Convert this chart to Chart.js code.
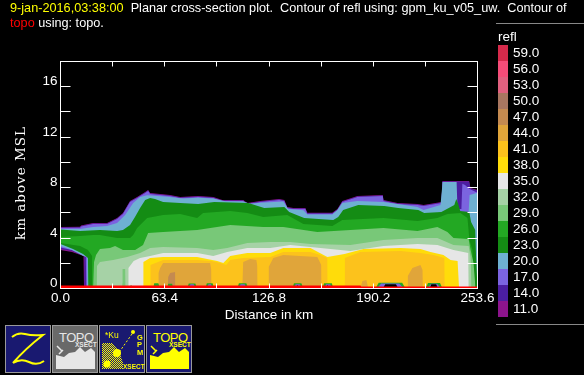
<!DOCTYPE html>
<html lang="en">
<head>
<meta charset="UTF-8">
<title>Planar cross-section plot</title>
<script src="https://cdn.jsdelivr.net/npm/chart.js"></script>
<style>
  html, body { margin: 0; padding: 0; background: #000; width: 584px; height: 375px; overflow: hidden; }
  body { position: relative; font-family: "Liberation Sans", sans-serif; font-size: 13.5px; color: #fff; }
  canvas { position: absolute; left: 0; top: 0; }
  .plot-title { position: absolute; left: 10px; white-space: pre; line-height: 15px; font-size: 12.7px; }
  .rule { position: absolute; left: 496px; width: 88px; height: 1px; background: #888; }
  #legend { position: absolute; left: 498px; top: 29px; }
  #legend .name { height: 16px; line-height: 15px; }
  #legend .row { height: 16px; line-height: 16px; display: flex; }
  #legend .box { width: 10px; height: 16px; margin-right: 5px; }
  svg.btn { position: absolute; top: 325px; width: 46px; height: 48px; }
</style>
</head>
<body>
<canvas id="xsect" width="584" height="375"></canvas>

<div class="plot-title" style="top:1px"><span style="color:#ffff00">9-jan-2016,03:38:00</span>  Planar cross-section plot.  Contour of refl using: gpm_ku_v05_uw.  Contour of</div>
<div class="plot-title" style="top:16px"><span style="color:#ff0000">topo</span> using: topo.</div>

<div class="rule" style="top:23px"></div>
<div class="rule" style="top:324px"></div>
<div id="legend"></div>

<svg class="btn" style="left:5px" viewBox="0 0 46 48">
  <rect x="0.5" y="0.5" width="45" height="47" fill="#191970" stroke="#999"/>
  <path d="M7 12 Q13 7 20 9 T38 10 Q20 24 8 38 Q16 33 24 37 T39 36" fill="none" stroke="#ffff00" stroke-width="2"/>
</svg>
<svg class="btn" style="left:52px" viewBox="0 0 46 48">
  <rect x="0.5" y="0.5" width="45" height="47" fill="#696969" stroke="#999"/>
  <text x="7" y="17" font-size="13" fill="#e6e6e6" textLength="35">TOPO</text>
  <text x="23" y="22" font-size="6.5" font-weight="bold" fill="#e6e6e6">XSECT</text>
  <path d="M4 30 L12 32 L17 28 L23 27 L28 22 L33 27 L39 23 L43 27 L43 44 L4 44 Z" fill="#e6e6e6"/>
  <path d="M5 21 L10 26 M7 29 L11 25" stroke="#e6e6e6" stroke-width="1.5"/>
</svg>
<svg class="btn" style="left:99px" viewBox="0 0 46 48">
  <defs>
    <pattern id="dither" width="2" height="2" patternUnits="userSpaceOnUse">
      <rect width="1" height="1" fill="#ffff00"/><rect x="1" y="1" width="1" height="1" fill="#ffff00"/>
    </pattern>
  </defs>
  <rect x="0.5" y="0.5" width="45" height="47" fill="#191970" stroke="#999"/>
  <text x="6" y="13" font-size="8.5" fill="#ffff00">*Ku</text>
  <circle cx="34" cy="7" r="2" fill="#ffff00"/>
  <text x="38" y="14.5" font-size="7.5" font-weight="bold" fill="#ffff00">G</text>
  <text x="38" y="22" font-size="7.5" font-weight="bold" fill="#ffff00">P</text>
  <text x="38" y="29.5" font-size="7.5" font-weight="bold" fill="#ffff00">M</text>
  <path d="M3 18 L13 18 L20 26 L24 38 L24 44 L3 44 Z" fill="url(#dither)"/>
  <circle cx="18" cy="28" r="4" fill="#ffff00"/>
  <circle cx="8" cy="39" r="3.5" fill="#ffff00"/>
  <path d="M33 9 L21 26" stroke="#ffff00" stroke-width="1" stroke-dasharray="2 2"/>
  <text x="24" y="44" font-size="6.5" font-weight="bold" fill="#ffff00">XSECT</text>
</svg>
<svg class="btn" style="left:146px" viewBox="0 0 46 48">
  <rect x="0.5" y="0.5" width="45" height="47" fill="#191970" stroke="#999"/>
  <text x="7" y="17" font-size="13" fill="#ffff00" textLength="35">TOPO</text>
  <text x="23" y="22" font-size="6.5" font-weight="bold" fill="#ffff00">XSECT</text>
  <path d="M4 30 L12 32 L17 28 L23 27 L28 22 L33 27 L39 23 L43 27 L43 44 L4 44 Z" fill="#ffff00"/>
  <path d="M5 21 L10 26 M7 29 L11 25" stroke="#ffff00" stroke-width="1.5"/>
</svg>

<script>
// axis ticks
const xTicks = [0, 31.7, 63.4, 95.1, 126.8, 158.5, 190.2, 221.9, 253.6];
const xTickLabels = ["0.0", "", "63.4", "", "126.8", "", "190.2", "", "253.6"];
const yTicks = [0, 2, 4, 6, 8, 10, 12, 14, 16, 18];
const yTickLabels = ["0", "", "4", "", "8", "", "12", "", "16", ""];

// colour key, top to bottom
const levels = ["59.0", "56.0", "53.0", "50.0", "47.0", "44.0", "41.0", "38.0", "35.0", "32.0", "29.0", "26.0", "23.0", "20.0", "17.0", "14.0", "11.0"];
const levelColors = ["#d62a4b", "#f54c78", "#e0607f", "#a87660", "#c48a50", "#e0a53a", "#fcc21c", "#ffdc0a", "#e6e6e6", "#a6d2a6", "#78c878", "#23a823", "#148c14", "#6eb0d2", "#7b64e0", "#4b1ea0", "#8c148c"];

// contour outlines: distance (km), height (km)
const floorX = [0, 253.6];
const floorY = [0, 0];

const x11 = [0, 11.9, 12.5, 19.8, 28.3, 34.4, 38, 42.3, 46.6, 51.5, 53.3, 54.5, 66.6, 72.8, 83.7, 92.9, 98.4, 111.1, 113.6, 121.5, 133, 136.1, 137.9, 141.6, 148.9, 150.1, 165.3, 168.4, 171.4, 180.6, 196, 196.4, 204.9, 217.1, 220.8, 231.7, 232.3, 248.5, 249.3, 253.6];
const top11 = [4.88, 4.9, 5.0, 5.19, 5.19, 5.59, 5.99, 6.94, 7.26, 7.65, 7.81, 7.57, 7.41, 7.26, 7.34, 7.26, 7.02, 7.02, 6.78, 6.94, 7.1, 7.02, 6.46, 6.38, 6.38, 6, 6, 6.3, 6.94, 7.34, 7.41, 7.02, 6.78, 6.7, 6.62, 6.86, 8.52, 8.52, 7.97, 7.81];
const botX11 = [0, 7, 14, 14.3, 253.6];
const bot11 = [3.05, 2.89, 2.58, 0, 0];

const top14 = [4.84, 4.86, 4.96, 5.15, 5.15, 5.55, 5.95, 6.9, 7.22, 7.61, 7.77, 7.53, 7.37, 7.22, 7.3, 7.22, 6.98, 6.98, 6.74, 6.9, 7.06, 6.98, 6.42, 6.34, 6.34, 5.96, 5.96, 6.26, 6.9, 7.3, 7.37, 6.98, 6.74, 6.66, 6.58, 6.82, 8.48, 8.48, 7.93, 7.77];
const botX14 = [0, 7, 14.5, 14.8, 253.6];
const bot14 = [3.13, 2.97, 2.58, 0, 0];

const x17 = [0, 11.9, 12.5, 19.8, 28.3, 34.4, 38, 42.3, 46.6, 51.5, 53.3, 54.5, 66.6, 72.8, 83.7, 92.9, 98.4, 111.1, 113.6, 121.5, 133, 136.1, 137.9, 141.6, 148.9, 150.1, 165.3, 168.4, 171.4, 180.6, 196, 196.4, 204.9, 217.1, 220.8, 231.7, 232.3, 240, 240.6, 243.8, 244.4, 246, 248.5, 253.6];
const top17 = [4.8, 4.82, 4.92, 5.11, 5.11, 5.51, 5.91, 6.86, 7.18, 7.57, 7.73, 7.49, 7.33, 7.18, 7.26, 7.18, 6.94, 6.94, 6.7, 6.86, 7.02, 6.94, 6.38, 6.3, 6.3, 5.93, 5.93, 6.22, 6.86, 7.26, 7.33, 6.94, 6.7, 6.62, 6.54, 6.78, 8.44, 8.44, 6.3, 6.3, 8.3, 8.2, 7.9, 7.6];
const botX17 = [0, 7, 15.4, 15.7, 253.6];
const bot17 = [3.25, 3.05, 2.5, 0, 0];

const x20 = [0, 11.9, 19.8, 28.3, 34.4, 39.3, 44.2, 48.4, 52.7, 64.9, 74.6, 83.7, 92.9, 100.2, 111.1, 115.4, 121.5, 135.5, 138.5, 147.7, 150.1, 165.3, 168.4, 171.4, 180.6, 196.4, 204.9, 217.1, 220.8, 231.1, 232.4, 240.9, 241.5, 248.2, 248.8, 253.6];
const top20 = [4.72, 4.72, 4.88, 4.96, 5.19, 5.83, 6.78, 7.25, 7.4, 7.28, 7.14, 7.2, 7.14, 6.92, 6.9, 6.72, 6.8, 6.9, 6.3, 6.2, 5.87, 5.87, 6.22, 6.78, 6.94, 6.86, 6.7, 6.46, 6.22, 6.62, 8.44, 8.44, 6.07, 6.07, 7.41, 7.6];
const botX20 = [0, 7, 14, 16.2, 16.5, 253.6];
const bot20 = [3.37, 3.05, 2.58, 2.5, 0, 0];

const x23 = [0, 11.9, 24, 34.4, 38, 42.3, 45.3, 48.4, 51.5, 54.5, 57.5, 62.4, 72.8, 83.7, 93.5, 114.2, 123.9, 136.1, 139.1, 148.2, 165.9, 168.9, 171.9, 181.1, 196.9, 205.4, 217.6, 221.2, 231.6, 239.5, 240.7, 241.9, 243.1, 248.6, 249.7, 252.2, 252.8, 253.6];
const top23 = [4.68, 4.56, 4.64, 4.56, 4.64, 5.04, 5.67, 6.38, 7.02, 7.18, 7.1, 6.86, 6.78, 6.7, 6.86, 6.78, 6.38, 6.46, 6.07, 5.59, 5.43, 5.67, 6.22, 6.62, 6.54, 6.38, 6.22, 5.99, 6.07, 6.62, 7.1, 6.7, 6.15, 6.07, 5.27, 4.64, 2.26, 0];
const botX23 = [0, 7.6, 13.7, 16.7, 16.9, 253.6];
const bot23 = [3.53, 3.13, 2.74, 2.42, 0, 0];

const x26 = [0, 11.9, 19.8, 24, 34.4, 42.3, 44.2, 46.6, 52.7, 62.4, 72.8, 83.1, 86.7, 103.2, 113.6, 123.3, 137.9, 147.7, 165.3, 171.4, 196.4, 217.1, 229.2, 235.3, 243.2, 247.5, 248.7, 250.5, 251.1];
const top26 = [4.08, 4.16, 4.24, 4.24, 4, 4, 4.24, 4.8, 5.59, 5.83, 5.91, 5.59, 5.99, 6.15, 5.99, 5.67, 5.83, 5.11, 4.96, 5.43, 5.59, 5.35, 5.59, 5.91, 5.99, 5.59, 3.85, 3.05, 0];
const botX26 = [0, 11.9, 16.7, 19.2, 19.4, 253.6];
const bot26 = [3.61, 3.37, 3.05, 2.58, 0, 0];

const x29 = [19.8, 20.4, 21.6, 24, 30.1, 33.2, 38, 45.4, 50.2, 53.3, 62.4, 83.1, 103.2, 123.3, 135.5, 156.2, 176.3, 196.4, 217.1, 229.2, 235.3, 239, 248.2, 249.4, 251.2, 252.4];
const top29 = [0, 2.1, 2.66, 3.13, 3.21, 3.37, 3.05, 3.05, 3.45, 4.4, 4.48, 4.64, 5.04, 4.88, 4.88, 4.48, 4.64, 4.8, 4.56, 4.88, 4.48, 4, 3.93, 3.05, 2.02, 0];

const x32 = [21.9, 22.2, 24, 32, 40.5, 48.4, 54.5, 62.4, 83.1, 92.9, 101.4, 113.6, 127.6, 139.8, 152, 176.3, 196.4, 217.1, 229.2, 239, 248.2, 249.4, 250];
const top32 = [0, 1.78, 2.1, 2.26, 2.5, 2.82, 3.21, 3.29, 3.21, 3.05, 3.21, 3.61, 3.69, 3.69, 3.53, 3.45, 3.85, 4, 4, 3.45, 3.37, 2.5, 0];

// small 29 dBZ sliver inside the 32 dBZ area
const x29b = [37.5, 37.7, 39.4, 39.6];
const top29b = [0.4, 1.55, 1.55, 0.4];

const x35 = [41.1, 41.3, 44.5, 48.4, 54.5, 62.4, 83.1, 92.9, 101.4, 113.6, 127.6, 139.8, 152, 176.3, 196.4, 217.1, 229.2, 239, 248, 248.3];
const top35 = [0, 1.63, 2.18, 2.42, 2.58, 2.82, 2.82, 2.58, 2.89, 3.21, 3.21, 3.45, 3.29, 2.97, 3.37, 3.53, 3.45, 3.05, 2.82, 0];

const x38 = [50.2, 50.4, 54.5, 62.4, 83.1, 95.3, 99, 103.2, 113.6, 127.6, 135.5, 152, 162.3, 172.7, 184.2, 206.8, 218.9, 225, 232.9, 237.2, 241.5, 242.4];
const top38 = [0, 2.1, 2.42, 2.5, 2.5, 2.18, 2.02, 2.58, 2.82, 2.82, 3.21, 3.21, 2.5, 2.74, 3.13, 3.21, 3.13, 2.89, 2.66, 2.26, 2.18, 0];

const x41a = [54.5, 54.7, 62.4, 83.1, 91.7, 97.1, 100.8, 103.2, 111.1, 127.6, 135.5, 152, 158, 162.3, 162.5];
const top41a = [0, 1.86, 2.26, 2.26, 2.18, 2.02, 1.86, 2.26, 2.42, 2.5, 2.89, 2.89, 2.66, 2.42, 0];
const x41b = [172.7, 172.9, 182.4, 206.8, 218.9, 226.9, 233.5, 233.7];
const top41b = [0, 2.42, 2.89, 2.97, 2.82, 2.66, 2.42, 0];

const x44a = [59.4, 59.6, 60.6, 62.4, 91, 91.7, 91.9];
const top44a = [0, 1.23, 1.63, 2.02, 2.02, 1.5, 0];
const x44b = [110.5, 111.1, 115.4, 119.1, 119.7, 119.9];
const top44b = [0, 2.1, 2.34, 2.26, 1.8, 0];
const x44c = [126.4, 126.6, 129.4, 135.5, 156.2, 158.6, 158.8];
const top44c = [0, 1.71, 2.42, 2.66, 2.5, 1.86, 0];
const x44d = [211, 211.2, 214, 218.9, 220.2, 220.4];
const top44d = [0, 1, 1.63, 1.86, 1.47, 0];
const x44e = [182.4, 183.6, 186, 187.2];
const top44e = [0, 0.6, 0.67, 0];

const x47 = [65.2, 65.5, 66.7, 69.7, 69.9];
const top47 = [0, 0.91, 1.23, 1.31, 0];

// echo gaps right above the surface
const gapX = [40.5, 42.9, 45.4, 56.3, 57, 59.5, 60.6, 64.9, 65.5, 67.9, 68.5, 77, 78, 82, 83.1, 88, 89, 92.5, 93.5, 107.5, 108.5, 113, 114.2, 141, 142, 146.5, 147.7, 159.3, 160.3, 165, 166, 191.5, 193.5, 207.8, 209.8, 222, 223.5, 230.8, 232.3];
const gapGreen = [0, 0.26, 0, 0, 0.42, 0.42, 0, 0, 0.38, 0.38, 0, 0, 0.4, 0.4, 0, 0, 0.42, 0.42, 0, 0, 0.42, 0.42, 0, 0, 0.42, 0.42, 0, 0, 0.42, 0.42, 0, 0, 0.46, 0.46, 0, 0, 0.44, 0.44, 0];
const gapVioletX = [78, 79, 81, 82, 89, 90, 91.5, 92.5, 108.5, 109.5, 112, 113, 142, 143, 145.5, 146.5, 160.5, 161.5, 164, 165, 192.5, 195, 206, 208.8, 223, 225.5, 229, 231.3];
const gapViolet = [0, 0.34, 0.34, 0, 0, 0.34, 0.34, 0, 0, 0.34, 0.34, 0, 0, 0.34, 0.34, 0, 0, 0.34, 0.34, 0, 0, 0.4, 0.4, 0, 0, 0.38, 0.38, 0];
const gapBlackX = [143, 144, 145, 161.5, 162.3, 163.2, 196, 197.5, 204, 205.5, 224.5, 225.5, 228.5, 229.5];
const gapBlack = [0, 0.28, 0, 0, 0.28, 0, 0, 0.34, 0.34, 0, 0, 0.33, 0.33, 0];

// red topography along the bottom of the section
const topoX = [0, 182, 182.4, 253.6];
const topoY = [0.12, 0.12, 0.04, 0.04];

function pts(xs, ys) {
  return xs.map((x, i) => ({ x: x, y: ys[i] }));
}
function colorOf(level) {
  return levelColors[levels.indexOf(level)];
}

// lowest level first, every area is painted over the previous one
const bands = [
  ["11.0", x11, top11, botX11, bot11],
  ["14.0", x11, top14, botX14, bot14],
  ["17.0", x17, top17, botX17, bot17],
  ["20.0", x20, top20, botX20, bot20],
  ["23.0", x23, top23, botX23, bot23],
  ["26.0", x26, top26, botX26, bot26],
  ["29.0", x29, top29, floorX, floorY],
  ["32.0", x32, top32, floorX, floorY],
  ["29.0", x29b, top29b, floorX, floorY],
  ["35.0", x35, top35, floorX, floorY],
  ["38.0", x38, top38, floorX, floorY],
  ["41.0", x41a, top41a, floorX, floorY],
  ["41.0", x41b, top41b, floorX, floorY],
  ["44.0", x44a, top44a, floorX, floorY],
  ["44.0", x44b, top44b, floorX, floorY],
  ["44.0", x44c, top44c, floorX, floorY],
  ["44.0", x44d, top44d, floorX, floorY],
  ["44.0", x44e, top44e, floorX, floorY],
  ["47.0", x47, top47, floorX, floorY],
  ["26.0", gapX, gapGreen, floorX, floorY],
  ["17.0", gapVioletX, gapViolet, floorX, floorY],
];

const datasets = [];
let drawOrder = 1000;
bands.forEach(b => {
  const base = { borderWidth: 0, pointRadius: 0, tension: 0, order: drawOrder };
  datasets.push({ ...base, label: b[0], data: pts(b[1], b[2]), backgroundColor: colorOf(b[0]), fill: "+1" });
  datasets.push({ ...base, label: "", data: pts(b[3], b[4]), fill: false });
  drawOrder -= 1;
});
datasets.push({ label: "gap", data: pts(gapBlackX, gapBlack), borderWidth: 0, pointRadius: 0, backgroundColor: "#000", fill: { value: 0 }, order: 5 });
datasets.push({ label: "topo", data: pts(topoX, topoY), borderColor: "#ff0000", borderWidth: 3, pointRadius: 0, fill: false, order: 1 });

// white frame with the tick marks pointing inwards on all four sides
const framePlugin = {
  id: "frame",
  afterDatasetsDraw(chart) {
    const c = chart.ctx, a = chart.chartArea, sx = chart.scales.x, sy = chart.scales.y;
    c.save();
    c.strokeStyle = "#fff";
    c.lineWidth = 1;
    c.strokeRect(a.left, a.top, a.right - a.left, a.bottom - a.top);
    c.beginPath();
    xTicks.slice(1, -1).forEach(v => {
      const p = Math.floor(sx.getPixelForValue(v)) + 0.5;
      c.moveTo(p, a.top); c.lineTo(p, a.top + 5);
      c.moveTo(p, a.bottom); c.lineTo(p, a.bottom - 5);
    });
    yTicks.slice(1, -1).forEach(v => {
      const p = Math.floor(sy.getPixelForValue(v)) + 0.5;
      c.moveTo(a.left, p); c.lineTo(a.left + 10, p);
      c.moveTo(a.right, p); c.lineTo(a.right - 10, p);
    });
    c.stroke();
    c.translate(25, 183);
    c.rotate(-Math.PI / 2);
    c.fillStyle = "#fff";
    c.font = "13.5px 'DejaVu Serif'";
    c.letterSpacing = "1px";
    c.textAlign = "center";
    c.fillText("km above MSL", 0, 0);
    c.restore();
  }
};

const tickFont = { family: "'Liberation Sans'", size: 13.5 };

new Chart(document.getElementById("xsect"), {
  type: "line",
  data: { datasets: datasets },
  options: {
    responsive: false,
    animation: false,
    layout: { autoPadding: false, padding: { left: 0, right: 106.5, top: 61.5, bottom: 0 } },
    plugins: { legend: { display: false }, tooltip: { enabled: false } },
    scales: {
      x: {
        type: "linear", min: 0, max: 253.6,
        grid: { display: false, drawTicks: false }, border: { display: false },
        afterFit(scale) { scale.height = 86.5; },
        afterBuildTicks(scale) { scale.ticks = xTicks.map(v => ({ value: v })); },
        ticks: {
          color: "#fff", font: tickFont, padding: 2, maxRotation: 0, autoSkip: false,
          callback: (v, i) => xTickLabels[i]
        },
        title: { display: true, text: "Distance in km", color: "#fff", font: tickFont, padding: { top: 1, bottom: 52 } }
      },
      y: {
        min: 0, max: 18,
        grid: { display: false, drawTicks: false }, border: { display: false },
        afterFit(scale) { scale.width = 60.5; },
        afterBuildTicks(scale) { scale.ticks = yTicks.map(v => ({ value: v })); },
        ticks: {
          color: "#fff", font: tickFont, padding: 3, labelOffset: -5, autoSkip: false,
          callback: (v, i) => yTickLabels[i]
        }
      }
    }
  },
  plugins: [framePlugin]
});

// colour key
const legend = document.getElementById("legend");
legend.innerHTML = '<div class="name">refl</div>';
levels.forEach((lv, i) => {
  legend.innerHTML += `<div class="row"><div class="box" style="background:${levelColors[i]}"></div><div>${lv}</div></div>`;
});
</script>
</body>
</html>
